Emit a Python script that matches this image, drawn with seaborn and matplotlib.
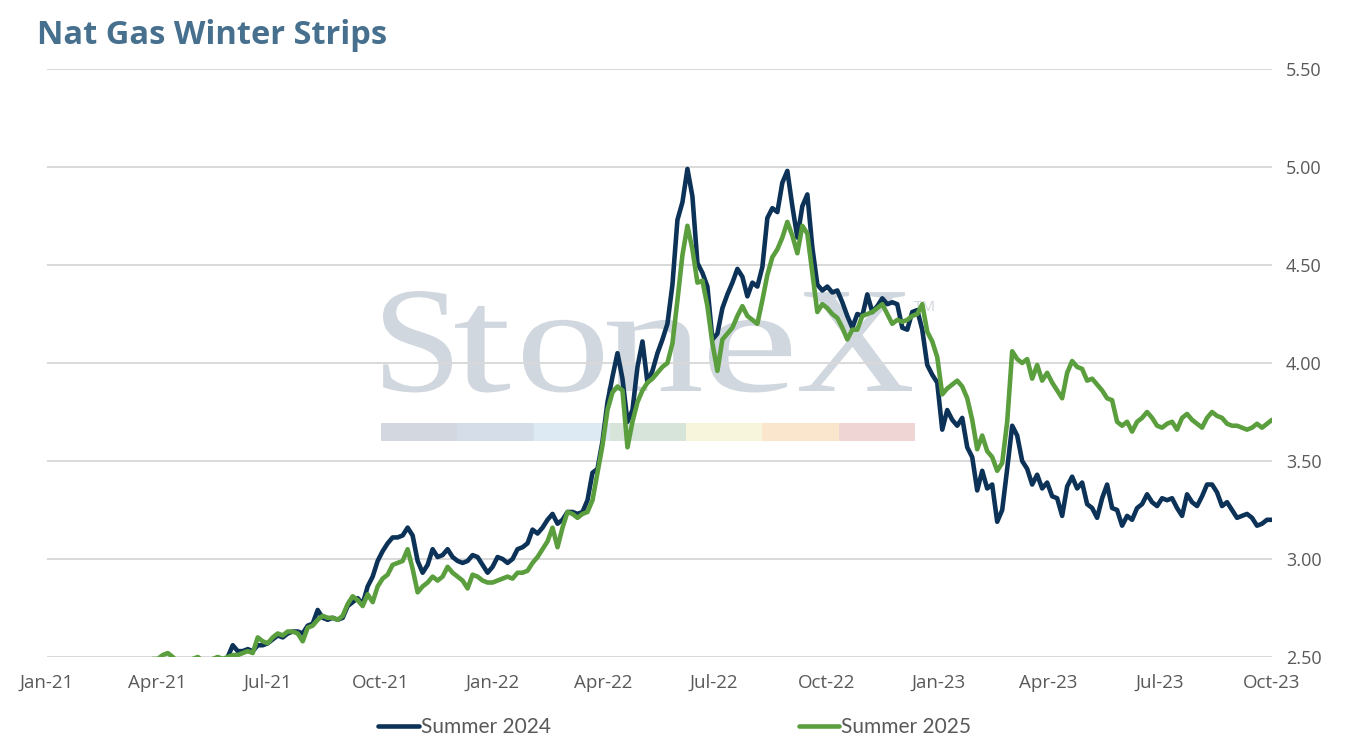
import numpy as np
import pandas as pd
import matplotlib
matplotlib.use("Agg")
import matplotlib.pyplot as plt
import matplotlib.dates as mdates
from matplotlib.patches import Rectangle, PathPatch
from matplotlib.textpath import TextPath
from matplotlib.font_manager import FontProperties
from matplotlib.transforms import Affine2D
import seaborn as sns

# values, roughly every 4 days from end Feb 2021 to end Sep 2023
summer_2024 = [
    2.40, 2.41, 2.42, 2.42, 2.43, 2.43, 2.44, 2.45, 2.46, 2.47,
    2.48, 2.47, 2.45, 2.44, 2.45, 2.46, 2.47, 2.46, 2.45, 2.47,
    2.48, 2.47, 2.50, 2.56, 2.53, 2.53, 2.54, 2.53, 2.56, 2.56,
    2.57, 2.59, 2.61, 2.60, 2.62, 2.63, 2.63, 2.62, 2.66, 2.67,
    2.74, 2.70, 2.69, 2.70, 2.69, 2.70, 2.76, 2.78, 2.80, 2.77,
    2.86, 2.91, 2.99, 3.04, 3.08, 3.11, 3.11, 3.12, 3.16, 3.12,
    2.99, 2.93, 2.97, 3.05, 3.01, 3.02, 3.05, 3.01, 2.99, 2.98,
    2.99, 3.02, 3.01, 2.97, 2.93, 2.96, 3.01, 3.00, 2.98, 3.00,
    3.05, 3.06, 3.08, 3.15, 3.13, 3.16, 3.20, 3.23, 3.18, 3.20,
    3.24, 3.24, 3.23, 3.24, 3.30, 3.44, 3.46, 3.60, 3.80, 3.93,
    4.05, 3.92, 3.70, 3.76, 3.98, 4.11, 3.90, 3.96, 4.05, 4.12,
    4.20, 4.40, 4.73, 4.82, 4.99, 4.85, 4.51, 4.46, 4.39, 4.12,
    4.15, 4.28, 4.35, 4.41, 4.48, 4.44, 4.34, 4.41, 4.39, 4.49,
    4.74, 4.79, 4.77, 4.92, 4.98, 4.80, 4.64, 4.80, 4.86, 4.59,
    4.40, 4.37, 4.39, 4.36, 4.37, 4.31, 4.24, 4.18, 4.25, 4.24,
    4.35, 4.26, 4.29, 4.33, 4.30, 4.31, 4.30, 4.18, 4.17, 4.26,
    4.27, 4.17, 3.99, 3.94, 3.90, 3.66, 3.76, 3.71, 3.68, 3.72,
    3.57, 3.52, 3.35, 3.45, 3.36, 3.38, 3.19, 3.25, 3.46, 3.68,
    3.63, 3.50, 3.46, 3.38, 3.43, 3.36, 3.39, 3.32, 3.31, 3.22,
    3.37, 3.42, 3.36, 3.39, 3.28, 3.26, 3.21, 3.31, 3.38, 3.26,
    3.25, 3.17, 3.22, 3.20, 3.26, 3.28, 3.33, 3.29, 3.27, 3.31,
    3.30, 3.31, 3.26, 3.22, 3.33, 3.29, 3.27, 3.32, 3.38, 3.38,
    3.34, 3.27, 3.29, 3.25, 3.21, 3.22, 3.23, 3.21, 3.17, 3.18,
    3.20, 3.20,
]
summer_2025 = [
    2.42, 2.43, 2.44, 2.45, 2.46, 2.47, 2.48, 2.49, 2.49, 2.51,
    2.52, 2.50, 2.47, 2.46, 2.47, 2.49, 2.50, 2.48, 2.47, 2.49,
    2.50, 2.49, 2.50, 2.51, 2.51, 2.52, 2.53, 2.52, 2.60, 2.58,
    2.57, 2.60, 2.62, 2.61, 2.63, 2.63, 2.62, 2.58, 2.65, 2.66,
    2.69, 2.71, 2.70, 2.70, 2.69, 2.71, 2.77, 2.81, 2.79, 2.76,
    2.82, 2.78, 2.86, 2.90, 2.92, 2.97, 2.98, 2.99, 3.05, 2.95,
    2.83, 2.86, 2.88, 2.91, 2.89, 2.91, 2.96, 2.93, 2.91, 2.89,
    2.85, 2.92, 2.91, 2.89, 2.88, 2.88, 2.89, 2.90, 2.91, 2.90,
    2.93, 2.93, 2.94, 2.98, 3.01, 3.05, 3.09, 3.16, 3.06, 3.16,
    3.24, 3.23, 3.21, 3.23, 3.24, 3.30, 3.44, 3.58, 3.76, 3.85,
    3.88, 3.86, 3.57, 3.70, 3.80, 3.86, 3.90, 3.92, 3.95, 3.98,
    4.00, 4.10, 4.32, 4.55, 4.70, 4.58, 4.41, 4.42, 4.29, 4.10,
    3.96, 4.12, 4.15, 4.18, 4.24, 4.29, 4.24, 4.22, 4.20, 4.32,
    4.45, 4.54, 4.58, 4.64, 4.72, 4.65, 4.56, 4.70, 4.66, 4.46,
    4.26, 4.30, 4.28, 4.25, 4.23, 4.18, 4.12, 4.17, 4.17, 4.24,
    4.25, 4.26, 4.28, 4.30, 4.25, 4.20, 4.22, 4.21, 4.22, 4.24,
    4.25, 4.30, 4.16, 4.11, 4.03, 3.84, 3.87, 3.89, 3.91, 3.88,
    3.82, 3.71, 3.56, 3.63, 3.55, 3.52, 3.45, 3.49, 3.70, 4.06,
    4.02, 4.00, 4.02, 3.92, 3.99, 3.91, 3.95, 3.90, 3.86, 3.82,
    3.95, 4.01, 3.98, 3.97, 3.91, 3.92, 3.89, 3.86, 3.82, 3.81,
    3.70, 3.68, 3.70, 3.65, 3.70, 3.72, 3.75, 3.72, 3.68, 3.67,
    3.69, 3.70, 3.66, 3.72, 3.74, 3.71, 3.69, 3.67, 3.72, 3.75,
    3.73, 3.72, 3.69, 3.68, 3.68, 3.67, 3.66, 3.67, 3.69, 3.67,
    3.69, 3.71,
]
series_names = ["Summer 2024", "Summer 2025"]
colors = {"Summer 2024": "#0c3258", "Summer 2025": "#5b9e3d"}
y_ticks = [2.50, 3.00, 3.50, 4.00, 4.50, 5.00, 5.50]
x_ticks = pd.date_range("2021-01-01", "2023-10-01", freq="QS")

dates = pd.date_range("2021-02-28", "2023-10-01", periods=len(summer_2024))
df = pd.DataFrame({
    "date": np.concatenate([dates, dates]),
    "price": summer_2024 + summer_2025,
    "series": np.repeat(series_names, len(dates)),
})

sns.set_theme(style="white")
plt.rcParams["font.family"] = ["Open Sans", "DejaVu Sans"]

W, H = 1356, 748
fig = plt.figure(figsize=(W / 100, H / 100), dpi=100)
ax = fig.add_axes([47 / W, 1 - 657 / H, 1225 / W, 588 / H])
ax.set_facecolor("none")

sns.lineplot(data=df, x="date", y="price", hue="series", palette=colors,
             estimator=None, linewidth=3.3, ax=ax)

# faint StoneX watermark behind everything (pixel coords, letters stretched to width)
wm_color = "#d0d7df"
serif = FontProperties(family="Liberation Serif")
letters = ["S", "t", "o", "n", "e", "X"]
spans = [(383, 452), (455, 510), (523, 603), (607, 701), (709, 791), (799, 912)]
for ch, (x0, x1) in zip(letters, spans):
    tp = TextPath((0, 0), ch, size=151, prop=serif)
    ext = tp.get_extents()
    tr = Affine2D().translate(-ext.x0, 0).scale((x1 - x0) / ext.width, 1).translate(x0, H - 391)
    fig.add_artist(PathPatch(tp, transform=tr, color=wm_color, lw=0, zorder=-1))
fig.text(914 / W, 1 - 311 / H, "TM", fontsize=11, color=wm_color, ha="left",
         va="baseline", zorder=-1)
bar_colors = ["#d3d8e0", "#d4dde8", "#dde9f3", "#d6e4da", "#f7f6dc", "#f9e6cd", "#f0d5d5"]
bw = 534 / 7
for i, c in enumerate(bar_colors):
    fig.add_artist(Rectangle(((381 + i * bw) / W, 1 - 441 / H), bw / W, 18 / H,
                             transform=fig.transFigure, color=c, lw=0, zorder=-1))

ax.set_axisbelow(True)
ax.grid(axis="y", color="#d9d9d9", linewidth=1.4)
ax.grid(axis="x", visible=False)
for s in ax.spines.values():
    s.set_visible(False)

ax.set_ylim(2.5, 5.5)
ax.set_yticks(y_ticks)
ax.yaxis.tick_right()
ax.yaxis.set_major_formatter(plt.FormatStrFormatter("%.2f"))
ax.set_xlim(pd.Timestamp("2021-01-01"), pd.Timestamp("2023-10-01"))
ax.set_xticks(x_ticks)
ax.xaxis.set_major_formatter(mdates.DateFormatter("%b-%y"))
ax.tick_params(axis="y", length=0, pad=10, labelsize=13, labelcolor="#595959")
ax.tick_params(axis="x", length=0, pad=12, labelsize=13.5, labelcolor="#595959")
ax.set_xlabel("")
ax.set_ylabel("")

handles, labels = ax.get_legend_handles_labels()
ax.get_legend().remove()
fig.legend(handles, labels, loc="center left", bbox_to_anchor=(378 / W, 1 - 727 / H),
           ncol=2, frameon=False, prop={"family": "Lato", "size": 15},
           handlelength=1.95, handletextpad=0.1, columnspacing=11.9,
           borderpad=0, borderaxespad=0, labelcolor="#595959")

fig.text(37 / W, 1 - 35 / H, "Nat Gas Winter Strips", fontsize=23.5, fontweight="bold",
         color="#47708f", ha="left", va="center")

fig.savefig("out.png", dpi=100)
